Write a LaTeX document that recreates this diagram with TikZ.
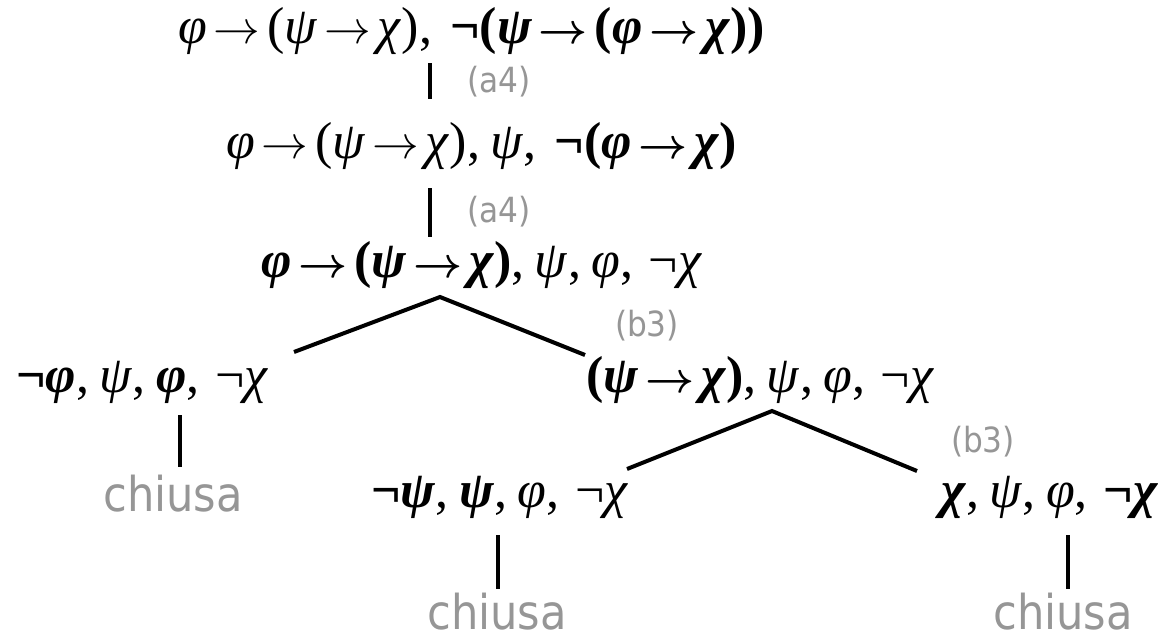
\RequirePackage{fix-cm}
\documentclass[tikz,border=0pt]{standalone}
\usepackage{fontspec}
\setmainfont{Liberation Serif}
\newfontfamily\labfont{DejaVu Sans Condensed}
\definecolor{labgray}{RGB}{150,150,150}
\newcommand{\gphi}{\textit{φ}}
\newcommand{\gpsi}{\textit{ψ}}
\newcommand{\gchi}{\textit{χ}}
\newcommand{\bphi}{\textbf{\textit{φ}}}
\newcommand{\bpsi}{\textbf{\textit{ψ}}}
\newcommand{\bchi}{\textbf{\textit{χ}}}
\newcommand{\arr}{\hspace{0.13em}{\fontsize{35}{35}\selectfont$\rightarrow$}\hspace{0.13em}}
\newcommand{\barr}{\hspace{0.13em}{\fontsize{32}{32}\selectfont\boldmath$\rightarrow$}\hspace{0.13em}}
\newcommand{\cm}{,\hspace{0.2em}}
\begin{document}
\begin{tikzpicture}[x=0.75pt,y=-0.75pt,
  formula/.style={inner sep=0pt,anchor=base west,font=\fontsize{39}{42}\selectfont},
  rule/.style={inner sep=0pt,anchor=base,text=labgray,font=\labfont\fontsize{26}{28}\selectfont},
  closed/.style={inner sep=0pt,anchor=base,text=labgray,font=\labfont\fontsize{36}{40}\selectfont},
  edge/.style={line width=3pt}]
\useasboundingbox (0,0) rectangle (1166,632);
% formulas
\node[formula] (r1) at (178,43) {\gphi\arr(\gpsi\arr\gchi)\cm\hspace{0.15em}\textbf{¬(\bpsi\barr(\bphi\barr\bchi))}};
\node[formula] (r2) at (226,158) {\gphi\arr(\gpsi\arr\gchi)\cm\gpsi\cm\hspace{0.15em}\textbf{¬(\bphi\barr\bchi)}};
\node[formula] (r3) at (261,277) {\textbf{\bphi\barr(\bpsi\barr\bchi)}\cm\gpsi\cm\gphi\cm\hspace{0.1em}¬\gchi};
\node[formula] (r4l) at (16,392) {\textbf{¬\bphi}\cm\gpsi\cm\bphi\cm\hspace{0.1em}¬\gchi};
\node[formula] (r4r) at (586,392) {\textbf{(\bpsi\barr\bchi)}\cm\gpsi\cm\gphi\cm\hspace{0.1em}¬\gchi};
\node[formula] (r5l) at (371,507) {\textbf{¬\bpsi}\cm\bpsi\cm\gphi\cm\hspace{0.1em}¬\gchi};
\node[formula] (r5r) at (941,507) {\bchi\cm\gpsi\cm\gphi\cm\hspace{0.1em}\textbf{¬\bchi}};
% closed leaves
\node[closed] (c1) at (173,511) {chiusa};
\node[closed] (c2) at (497,629) {chiusa};
\node[closed] (c3) at (1063,629) {chiusa};
% rule labels
\node[rule] (a1) at (499,92) {(a4)};
\node[rule] (a2) at (499,222) {(a4)};
\node[rule] (b1) at (647,336) {(b3)};
\node[rule] (b2) at (983,452) {(b3)};
% connector end points
\coordinate (r1s) at (430,63);  \coordinate (r2n) at (430,99);
\coordinate (r2s) at (430,188); \coordinate (r3n) at (430,237);
\coordinate (r3s) at (440,297); \coordinate (r4ln) at (294,352); \coordinate (r4rn) at (585,355);
\coordinate (r4ls) at (180,415); \coordinate (c1n) at (180,467);
\coordinate (r4rs) at (772,411); \coordinate (r5ln) at (627,469); \coordinate (r5rn) at (917,471);
\coordinate (r5ls) at (498,535); \coordinate (c2n) at (498,589);
\coordinate (r5rs) at (1068,535); \coordinate (c3n) at (1068,589);
% connectors
\draw[edge] (r1s) -- (r2n);
\draw[edge] (r2s) -- (r3n);
\draw[edge] (r4ln) -- (r3s) -- (r4rn);
\draw[edge] (r4ls) -- (c1n);
\draw[edge] (r5ln) -- (r4rs) -- (r5rn);
\draw[edge] (r5ls) -- (c2n);
\draw[edge] (r5rs) -- (c3n);
\end{tikzpicture}
\end{document}
